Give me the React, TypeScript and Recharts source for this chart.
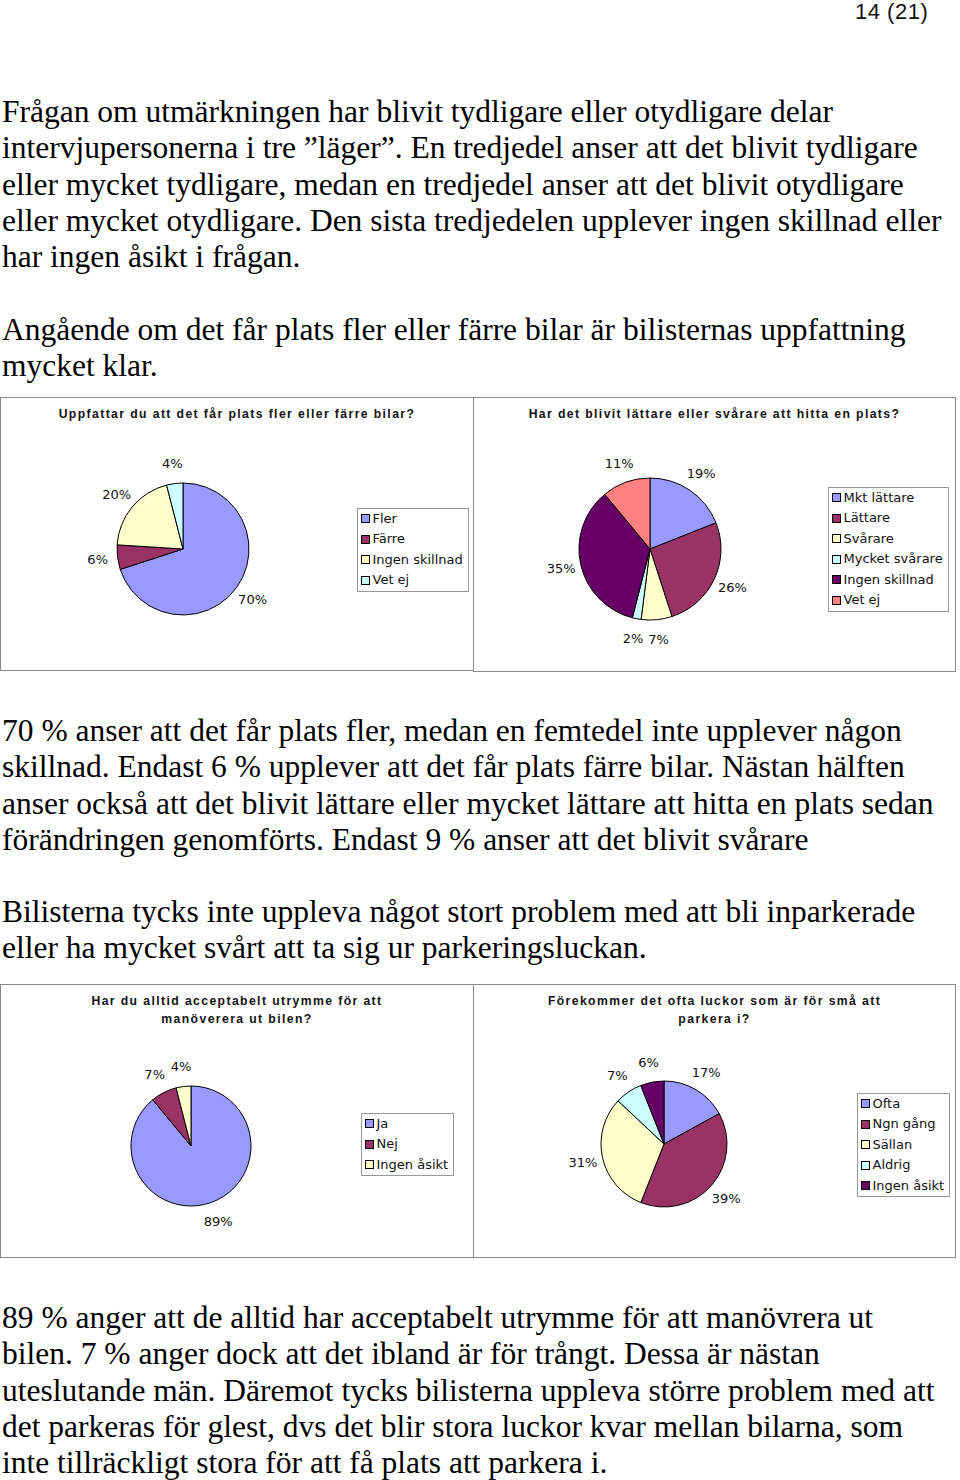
import { Cell, Legend, Pie, PieChart } from "recharts";

const PLATS_NAMES = ["Fler", "Färre", "Ingen skillnad", "Vet ej"];
const PLATS_VALUES = [70, 6, 20, 4];

const HITTA_NAMES = ["Mkt lättare", "Lättare", "Svårare", "Mycket svårare", "Ingen skillnad", "Vet ej"];
const HITTA_VALUES = [19, 26, 7, 2, 35, 11];

const UTRYMME_NAMES = ["Ja", "Nej", "Ingen åsikt"];
const UTRYMME_VALUES = [89, 7, 4];

const LUCKOR_NAMES = ["Ofta", "Ngn gång", "Sällan", "Aldrig", "Ingen åsikt"];
const LUCKOR_VALUES = [17, 39, 31, 7, 6];

// excel-ish default pie palette
const PALETTE = ["#9999ff", "#993366", "#ffffcc", "#ccffff", "#660066", "#ff8080"];

const PARA1 = [
  "Frågan om utmärkningen har blivit tydligare eller otydligare delar",
  "intervjupersonerna i tre ”läger”. En tredjedel anser att det blivit tydligare",
  "eller mycket tydligare, medan en tredjedel anser att det blivit otydligare",
  "eller mycket otydligare. Den sista tredjedelen upplever ingen skillnad eller",
  "har ingen åsikt i frågan.",
];
const PARA2 = [
  "Angående om det får plats fler eller färre bilar är bilisternas uppfattning",
  "mycket klar.",
];
const PARA3 = [
  "70 % anser att det får plats fler, medan en femtedel inte upplever någon",
  "skillnad. Endast 6 % upplever att det får plats färre bilar. Nästan hälften",
  "anser också att det blivit lättare eller mycket lättare att hitta en plats sedan",
  "förändringen genomförts. Endast 9 % anser att det blivit svårare",
];
const PARA4 = [
  "Bilisterna tycks inte uppleva något stort problem med att bli inparkerade",
  "eller ha mycket svårt att ta sig ur parkeringsluckan.",
];
const PARA5 = [
  "89 % anger att de alltid har acceptabelt utrymme för att manövrera ut",
  "bilen. 7 % anger dock att det ibland är för trångt. Dessa är nästan",
  "uteslutande män. Däremot tycks bilisterna uppleva större problem med att",
  "det parkeras för glest, dvs det blir stora luckor kvar mellan bilarna, som",
  "inte tillräckligt stora för att få plats att parkera i.",
];

const RAD = Math.PI / 180;
const LINE_H = 36.3;

function Lines({ lines, top }: { lines: string[]; top: number }) {
  return (
    <>
      {lines.map((l, i) => (
        <div
          key={i}
          style={{
            position: "absolute",
            left: 2,
            top: top + i * LINE_H - 19,
            height: 38,
            lineHeight: "38px",
            fontFamily: "'Liberation Serif', 'Times New Roman', serif",
            fontSize: 31.5,
            whiteSpace: "nowrap",
            color: "#000",
          }}
        >
          {l}
        </div>
      ))}
    </>
  );
}

function pctLabel(p: any) {
  const r = p.outerRadius + 20;
  const x = p.cx + r * Math.cos(-p.midAngle * RAD);
  const y = p.cy + r * Math.sin(-p.midAngle * RAD);
  return (
    <text
      x={x}
      y={y}
      textAnchor="middle"
      dominantBaseline="central"
      fontFamily="'DejaVu Sans', Verdana, sans-serif"
      fontSize={13}
      fill="#111"
    >
      {p.value}%
    </text>
  );
}

function BoxLegend({ names }: { names: string[] }) {
  return (
    <div
      style={{
        border: "1px solid #999",
        background: "#fff",
        padding: "0 5px 0 3px",
        fontFamily: "'DejaVu Sans', Verdana, sans-serif",
        fontSize: 13,
        lineHeight: "20.5px",
        color: "#111",
      }}
    >
      {names.map((n, i) => (
        <div key={n} style={{ display: "flex", alignItems: "center", whiteSpace: "nowrap" }}>
          <span
            style={{
              display: "inline-block",
              width: 7,
              height: 7,
              border: "1px solid #000",
              background: PALETTE[i],
              marginRight: 3,
            }}
          />
          {n}
        </div>
      ))}
    </div>
  );
}

type ChartProps = {
  left: number;
  top: number;
  width: number;
  height: number;
  title: string[];
  names: string[];
  values: number[];
  cx: number;
  cy: number;
  r: number;
  legendX: number;
  legendY: number;
};

function PieBox(c: ChartProps) {
  const data = c.names.map((n, i) => ({ name: n, value: c.values[i] }));
  return (
    <div
      style={{
        position: "absolute",
        left: c.left,
        top: c.top,
        width: c.width,
        height: c.height,
        boxSizing: "border-box",
        border: "1.5px solid #8a8a8a",
        background: "#fff",
      }}
    >
      <div
        style={{
          position: "absolute",
          left: 0,
          right: 0,
          top: 7,
          textAlign: "center",
          fontFamily: "'Liberation Sans', Arial, sans-serif",
          fontWeight: "bold",
          fontSize: 12.2,
          letterSpacing: 1.4,
          lineHeight: "18px",
          color: "#111",
        }}
      >
        {c.title.map((t) => (
          <div key={t}>{t}</div>
        ))}
      </div>
      <div style={{ position: "absolute", left: -1.5, top: -1.5 }}>
        <PieChart width={c.width} height={c.height} margin={{ top: 0, right: 0, bottom: 0, left: 0 }}>
          <Pie
            data={data}
            dataKey="value"
            nameKey="name"
            cx={c.cx}
            cy={c.cy}
            outerRadius={c.r}
            startAngle={90}
            endAngle={-270}
            stroke="#000"
            strokeWidth={1}
            label={pctLabel}
            labelLine={false}
            isAnimationActive={false}
          >
            {data.map((d, i) => (
              <Cell key={d.name} fill={PALETTE[i]} />
            ))}
          </Pie>
          <Legend
            layout="vertical"
            content={() => <BoxLegend names={c.names} />}
            wrapperStyle={{ left: c.legendX, top: c.legendY, width: "auto" }}
          />
        </PieChart>
      </div>
    </div>
  );
}

export default function App() {
  return (
    <div
      style={{
        position: "absolute",
        left: 0,
        top: 0,
        width: 960,
        height: 1480,
        background: "#fff",
        overflow: "hidden",
      }}
    >
      <div
        style={{
          position: "absolute",
          left: 855,
          top: 0,
          fontFamily: "'Liberation Sans Narrow', 'Liberation Sans', Arial, sans-serif",
          fontSize: 22,
          letterSpacing: 0.5,
          lineHeight: "24px",
          color: "#111",
        }}
      >
        14 (21)
      </div>

      <Lines lines={PARA1} top={112} />
      <Lines lines={PARA2} top={330} />

      <PieBox
        left={0}
        top={397}
        width={474}
        height={274}
        title={["Uppfattar du att det får plats fler eller färre bilar?"]}
        names={PLATS_NAMES}
        values={PLATS_VALUES}
        cx={183}
        cy={152}
        r={66}
        legendX={357}
        legendY={111}
      />
      <PieBox
        left={473}
        top={397}
        width={483}
        height={275}
        title={["Har det blivit lättare eller svårare att hitta en plats?"]}
        names={HITTA_NAMES}
        values={HITTA_VALUES}
        cx={177}
        cy={152}
        r={71}
        legendX={355}
        legendY={90}
      />

      <Lines lines={PARA3} top={731} />
      <Lines lines={PARA4} top={912} />

      <PieBox
        left={0}
        top={984}
        width={474}
        height={274}
        title={["Har du alltid acceptabelt utrymme för att", "manöverera ut bilen?"]}
        names={UTRYMME_NAMES}
        values={UTRYMME_VALUES}
        cx={191}
        cy={162}
        r={60}
        legendX={361}
        legendY={129}
      />
      <PieBox
        left={473}
        top={984}
        width={483}
        height={274}
        title={["Förekommer det ofta luckor som är för små att", "parkera i?"]}
        names={LUCKOR_NAMES}
        values={LUCKOR_VALUES}
        cx={191}
        cy={160}
        r={63}
        legendX={384}
        legendY={109}
      />

      <Lines lines={PARA5} top={1318} />
    </div>
  );
}
